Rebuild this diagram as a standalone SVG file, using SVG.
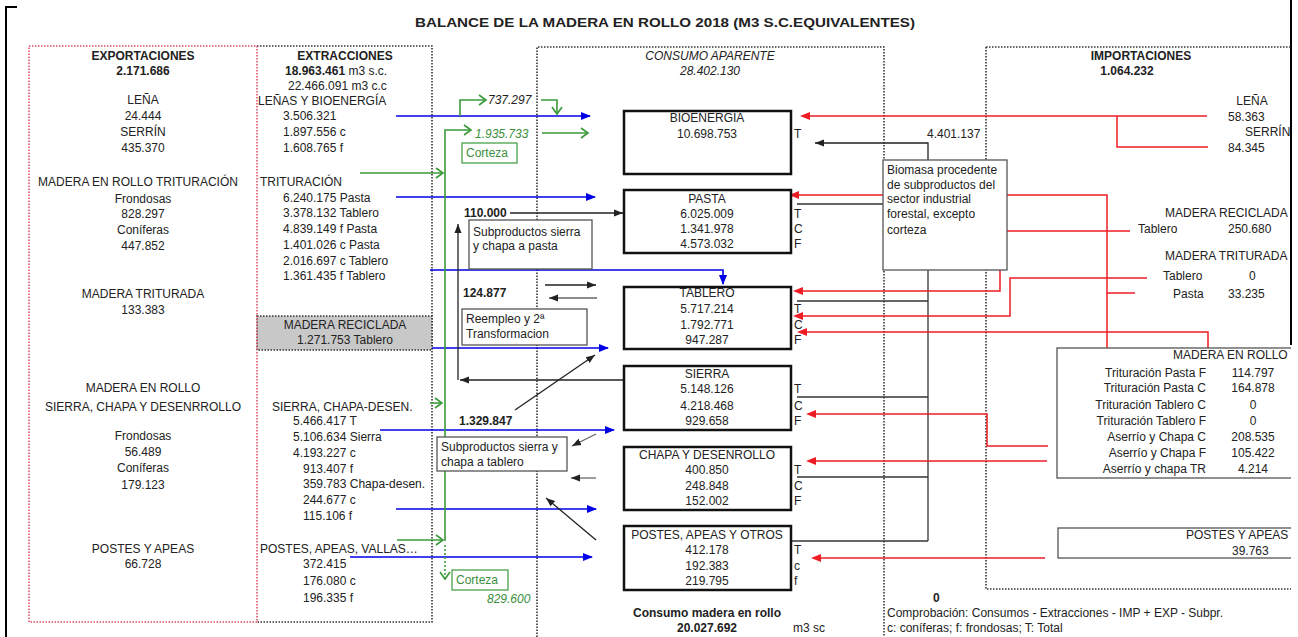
<svg xmlns="http://www.w3.org/2000/svg" width="1298" height="637" viewBox="0 0 1298 637">
<style>
.t{font-family:"Liberation Sans",Arial,sans-serif;font-size:12px;fill:#222}
.b{font-weight:bold}
.c{text-anchor:middle}
.r{text-anchor:end}
.i{font-style:italic}
.gt{fill:#3a8f3a}
.box{fill:#fff;stroke:#111;stroke-width:2.5}
.lbl{fill:#fff;stroke:#555;stroke-width:1.3}
.dotk{fill:none;stroke:#333;stroke-width:1.6;stroke-dasharray:1.5 1.5}
.dotr{fill:none;stroke:#e0506a;stroke-width:1.6;stroke-dasharray:1.5 1.5}
.bl{fill:none;stroke:#0000e6;stroke-width:1.6;marker-end:url(#mb)}
.rd{fill:none;stroke:#ee1c24;stroke-width:1.5}
.rda{fill:none;stroke:#ee1c24;stroke-width:1.5;marker-end:url(#mr)}
.gr{fill:none;stroke:#3a9a3a;stroke-width:1.6}
.gra{fill:none;stroke:#3a9a3a;stroke-width:1.6;marker-end:url(#mg)}
.k{fill:none;stroke:#333;stroke-width:1.3}
.ka{fill:none;stroke:#222;stroke-width:1.3;marker-end:url(#mk)}
.kg{fill:none;stroke:#666;stroke-width:1.3;marker-end:url(#mk)}
</style>
<defs>
<marker id="mb" markerWidth="10" markerHeight="10" refX="9" refY="5" orient="auto" markerUnits="userSpaceOnUse"><path d="M0,1 L10,5 L0,9 Z" fill="#0000e6"/></marker>
<marker id="mr" markerWidth="10" markerHeight="10" refX="1" refY="5" orient="auto" markerUnits="userSpaceOnUse"><path d="M0,5 L10,1 L10,9 Z" fill="#ee1c24" transform="rotate(180 5 5)"/></marker>
<marker id="mk" markerWidth="10" markerHeight="10" refX="9" refY="5" orient="auto" markerUnits="userSpaceOnUse"><path d="M0,1.5 L9,5 L0,8.5 Z" fill="#222"/></marker>
<marker id="mg" markerWidth="12" markerHeight="12" refX="10" refY="6" orient="auto" markerUnits="userSpaceOnUse"><path d="M3,1 L10,6 L3,11" fill="none" stroke="#3a9a3a" stroke-width="1.6"/></marker>
<clipPath id="cr"><rect x="0" y="0" width="1291" height="637"/></clipPath>
</defs>
<rect x="0" y="0" width="1298" height="637" fill="#fff"/>
<!-- frame -->
<path d="M6,637 V7 H17" fill="none" stroke="#000" stroke-width="2"/>
<line x1="1291" y1="0" x2="1291" y2="345" stroke="#000" stroke-width="2"/>
<text class="t b c" x="665" y="27" font-size="15" textLength="500" lengthAdjust="spacingAndGlyphs">BALANCE DE LA MADERA EN ROLLO 2018 (M3 S.C.EQUIVALENTES)</text>

<!-- EXTRACCIONES -->
<g id="extracciones">
<path class="dotk" d="M257,46 H432 V622 H257"/>
<text class="t b c" x="345" y="60">EXTRACCIONES</text>
<text class="t" x="285" y="75"><tspan class="b">18.963.461</tspan> m3 s.c.</text>
<text class="t" x="288" y="90">22.466.091 m3 c.c</text>
<text class="t" x="258" y="105">LEÑAS Y BIOENERGÍA</text>
<text class="t" x="283" y="120">3.506.321</text>
<text class="t" x="283" y="136">1.897.556 c</text>
<text class="t" x="283" y="152">1.608.765 f</text>
<text class="t" x="260" y="186">TRITURACIÓN</text>
<text class="t" x="283" y="202">6.240.175 Pasta</text>
<text class="t" x="283" y="217">3.378.132 Tablero</text>
<text class="t" x="283" y="233">4.839.149 f Pasta</text>
<text class="t" x="283" y="249">1.401.026 c Pasta</text>
<text class="t" x="283" y="265">2.016.697 c Tablero</text>
<text class="t" x="283" y="280">1.361.435 f Tablero</text>
<text class="t" x="272" y="411">SIERRA, CHAPA-DESEN.</text>
<text class="t" x="293" y="425">5.466.417 T</text>
<text class="t" x="293" y="441">5.106.634 Sierra</text>
<text class="t" x="293" y="457">4.193.227 c</text>
<text class="t" x="303" y="473">913.407 f</text>
<text class="t" x="303" y="488">359.783 Chapa-desen.</text>
<text class="t" x="303" y="504">244.677 c</text>
<text class="t" x="303" y="520">115.106 f</text>
<text class="t" x="260" y="553">POSTES, APEAS, VALLAS…</text>
<text class="t" x="303" y="568">372.415</text>
<text class="t" x="303" y="585">176.080 c</text>
<text class="t" x="303" y="602">196.335 f</text>
</g>
<g id="madera-reciclada">
<rect x="257" y="316" width="175" height="34" fill="#c8c8c8" stroke="#333" stroke-width="1.6" stroke-dasharray="1.5 1.5"/>
<text class="t c" x="345" y="329">MADERA RECICLADA</text>
<text class="t c" x="345" y="344">1.271.753 Tablero</text>
</g>

<!-- EXPORTACIONES -->
<g id="exportaciones">
<rect class="dotr" x="29" y="46" width="228" height="576"/>
<text class="t b c" x="143" y="60">EXPORTACIONES</text>
<text class="t b c" x="143" y="75">2.171.686</text>
<text class="t c" x="143" y="104">LEÑA</text>
<text class="t c" x="143" y="120">24.444</text>
<text class="t c" x="143" y="136">SERRÍN</text>
<text class="t c" x="143" y="152">435.370</text>
<text class="t c" x="138" y="186">MADERA EN ROLLO TRITURACIÓN</text>
<text class="t c" x="143" y="203">Frondosas</text>
<text class="t c" x="143" y="218">828.297</text>
<text class="t c" x="143" y="234">Coníferas</text>
<text class="t c" x="143" y="250">447.852</text>
<text class="t c" x="143" y="298">MADERA TRITURADA</text>
<text class="t c" x="143" y="314">133.383</text>
<text class="t c" x="143" y="392">MADERA EN ROLLO</text>
<text class="t c" x="143" y="411">SIERRA, CHAPA Y DESENRROLLO</text>
<text class="t c" x="143" y="440">Frondosas</text>
<text class="t c" x="143" y="456">56.489</text>
<text class="t c" x="143" y="472">Coníferas</text>
<text class="t c" x="143" y="489">179.123</text>
<text class="t c" x="143" y="553">POSTES Y APEAS</text>
<text class="t c" x="143" y="568">66.728</text>
</g>

<!-- CONSUMO APARENTE frame -->
<g id="consumo-aparente">
<path class="dotk" d="M537,637 V47 H884 V637"/>
<text class="t i c" x="710" y="60" fill="#333">CONSUMO APARENTE</text>
<text class="t i c" x="710" y="75" fill="#333">28.402.130</text>
<text class="t b c" x="707" y="617">Consumo madera en rollo</text>
<text class="t b c" x="707" y="632">20.027.692</text>
<text class="t" x="793" y="632">m3 sc</text>
</g>

<!-- IMPORTACIONES frame -->
<g id="importaciones" clip-path="url(#cr)">
<path class="dotk" d="M986,47 H1300 M986,47 V589 H1300"/>
<text class="t b c" x="1141" y="60">IMPORTACIONES</text>
<text class="t b c" x="1127" y="75">1.064.232</text>
<text class="t c" x="1252" y="105">LEÑA</text>
<text class="t" x="1228" y="121">58.363</text>
<text class="t" x="1245" y="136">SERRÍN</text>
<text class="t" x="1228" y="152">84.345</text>
<text class="t" x="1165" y="217">MADERA RECICLADA</text>
<text class="t" x="1138" y="233">Tablero</text>
<text class="t" x="1228" y="233">250.680</text>
<text class="t" x="1165" y="260">MADERA TRITURADA</text>
<text class="t" x="1163" y="280">Tablero</text>
<text class="t" x="1249" y="280">0</text>
<text class="t" x="1173" y="298">Pasta</text>
<text class="t" x="1228" y="298">33.235</text>
</g>

<!-- connectors -->
<g id="connectors">
<!-- blue -->
<path class="bl" d="M396,116 H590"/>
<path class="bl" d="M396,197 H595"/>
<path class="bl" d="M430,270 H723 V284"/>
<path class="bl" d="M432,348 H608"/>
<path class="bl" d="M380,430 H614"/>
<path class="bl" d="M396,509 H596"/>
<path class="bl" d="M350,557 H592"/>
<!-- green -->
<path class="gra" d="M360,173 H443"/>
<path class="gra" d="M445,541 V130 H471"/>
<path class="gra" d="M397,540 H443"/>
<path class="gra" d="M430,403 H442"/>
<path class="gra" d="M460,116 V100 H486"/>
<path class="gra" d="M541,100 H557 V114"/>
<path class="gra" d="M542,133 H588"/>
<path class="gra" d="M445,545 V579" stroke-dasharray="2 2"/>
<!-- black/gray internal -->
<path class="ka" d="M510,213 H623"/>
<path class="ka" d="M458,380 V224"/>
<path class="ka" d="M625,380 H460"/>
<path class="ka" d="M545,285 H596"/>
<path class="kg" d="M597,298 H549"/>
<path class="ka" d="M515,410 L595,355"/>
<path class="kg" d="M596,434 L572,446"/>
<path class="kg" d="M596,478 H571"/>
<path class="ka" d="M596,540 L546,498"/>
<!-- biomasa connectors -->
<path class="ka" d="M928,160 V143 H815"/>
<path class="k" d="M928,270 V541"/>
<path class="k" d="M797,204 H884"/>
<path class="k" d="M797,301 H928"/>
<path class="k" d="M797,397 H928"/>
<path class="k" d="M797,477 H928"/>
<path class="k" d="M791,541 H928" stroke="#111"/>
<!-- red -->
<path class="rda" d="M1207,116 H809"/>
<path class="rd" d="M1208,147 H1117 V116"/>
<path class="rda" d="M1107,348 V195 H798"/>
<path class="rd" d="M1135,293 H1107"/>
<path class="rda" d="M1130,231 H1000 V291 H802"/>
<path class="rda" d="M1147,278 H1010 V316 H802"/>
<path class="rda" d="M1208,348 V332 H806"/>
<path class="rda" d="M1048,446 H987 V414 H815"/>
<path class="rda" d="M1047,461 H815"/>
<path class="rda" d="M1045,558 H820"/>
</g>

<!-- labels on connectors -->
<g id="flow-labels">
<text class="t i" x="488" y="104" fill="#555">737.297</text>
<text class="t i gt" x="475" y="138">1.935.733</text>
<rect x="462" y="143" width="55" height="20" fill="#fff" stroke="#3a9a3a" stroke-width="1.2"/>
<text class="t gt" x="466" y="157">Corteza</text>
<rect x="452" y="570" width="56" height="20" fill="#fff" stroke="#3a9a3a" stroke-width="1.2"/>
<text class="t gt" x="456" y="584">Corteza</text>
<text class="t i gt" x="487" y="603">829.600</text>
<text class="t b" x="464" y="217">110.000</text>
<text class="t b" x="463" y="297">124.877</text>
<text class="t b" x="459" y="425">1.329.847</text>
</g>
<g id="sub-pasta">
<rect class="lbl" x="469" y="220" width="123" height="49"/>
<text class="t" x="473" y="236">Subproductos sierra</text>
<text class="t" x="473" y="250">y chapa a pasta</text>
</g>
<g id="reempleo">
<rect class="lbl" x="462" y="309" width="125" height="36"/>
<text class="t" x="466" y="323">Reempleo  y 2ª</text>
<text class="t" x="466" y="338">Transformacion</text>
</g>
<g id="sub-tablero">
<rect class="lbl" x="437" y="437" width="130" height="34"/>
<text class="t" x="441" y="451">Subproductos sierra y</text>
<text class="t" x="441" y="466">chapa a tablero</text>
</g>

<!-- central nodes -->
<g id="bioenergia">
<rect class="box" x="624" y="111" width="167" height="63"/>
<text class="t c" x="707" y="122">BIOENERGIA</text>
<text class="t c" x="707" y="138">10.698.753</text>
<text class="t" x="794" y="138">T</text>
</g>
<g id="pasta">
<rect class="box" x="624" y="190" width="167" height="63"/>
<text class="t c" x="707" y="203">PASTA</text>
<text class="t c" x="707" y="218">6.025.009</text>
<text class="t c" x="707" y="233">1.341.978</text>
<text class="t c" x="707" y="248">4.573.032</text>
<text class="t" x="794" y="218">T</text>
<text class="t" x="794" y="233">C</text>
<text class="t" x="794" y="248">F</text>
</g>
<g id="tablero">
<rect class="box" x="624" y="287" width="167" height="62"/>
<text class="t c" x="707" y="297">TABLERO</text>
<text class="t c" x="707" y="313">5.717.214</text>
<text class="t c" x="707" y="329">1.792.771</text>
<text class="t c" x="707" y="344">947.287</text>
<text class="t" x="794" y="313">T</text>
<text class="t" x="794" y="329">C</text>
<text class="t" x="794" y="344">F</text>
</g>
<g id="sierra">
<rect class="box" x="624" y="366" width="167" height="64"/>
<text class="t c" x="707" y="378">SIERRA</text>
<text class="t c" x="707" y="393">5.148.126</text>
<text class="t c" x="707" y="410">4.218.468</text>
<text class="t c" x="707" y="425">929.658</text>
<text class="t" x="794" y="393">T</text>
<text class="t" x="794" y="410">C</text>
<text class="t" x="794" y="425">F</text>
</g>
<g id="chapa">
<rect class="box" x="624" y="447" width="167" height="63"/>
<text class="t c" x="707" y="459">CHAPA Y DESENROLLO</text>
<text class="t c" x="707" y="474">400.850</text>
<text class="t c" x="707" y="490">248.848</text>
<text class="t c" x="707" y="505">152.002</text>
<text class="t" x="794" y="474">T</text>
<text class="t" x="794" y="490">C</text>
<text class="t" x="794" y="505">F</text>
</g>
<g id="postes">
<rect class="box" x="624" y="526" width="167" height="64"/>
<text class="t c" x="707" y="539">POSTES, APEAS Y OTROS</text>
<text class="t c" x="707" y="554">412.178</text>
<text class="t c" x="707" y="570">192.383</text>
<text class="t c" x="707" y="585">219.795</text>
<text class="t" x="794" y="554">T</text>
<text class="t" x="794" y="570">c</text>
<text class="t" x="794" y="585">f</text>
</g>

<g id="biomasa">
<rect class="lbl" x="883" y="160" width="124" height="110"/>
<text class="t" x="887" y="174">Biomasa procedente</text>
<text class="t" x="887" y="189">de subproductos del</text>
<text class="t" x="887" y="203">sector industrial</text>
<text class="t" x="887" y="218">forestal, excepto</text>
<text class="t" x="887" y="234">corteza</text>
</g>
<text class="t" x="927" y="138">4.401.137</text>

<g id="imp-madera-rollo" clip-path="url(#cr)">
<rect class="lbl" x="1057" y="348" width="250" height="130"/>
<text class="t" x="1173" y="359">MADERA EN ROLLO</text>
<text class="t r" x="1206" y="377">Trituración Pasta F</text>
<text class="t r" x="1206" y="392">Trituración Pasta C</text>
<text class="t r" x="1206" y="409">Trituración Tablero C</text>
<text class="t r" x="1206" y="425">Trituración Tablero F</text>
<text class="t r" x="1206" y="441">Aserrío y Chapa C</text>
<text class="t r" x="1206" y="457">Aserrío y Chapa F</text>
<text class="t r" x="1206" y="473">Aserrío y chapa TR</text>
<text class="t c" x="1253" y="377">114.797</text>
<text class="t c" x="1253" y="392">164.878</text>
<text class="t c" x="1253" y="409">0</text>
<text class="t c" x="1253" y="425">0</text>
<text class="t c" x="1253" y="441">208.535</text>
<text class="t c" x="1253" y="457">105.422</text>
<text class="t c" x="1253" y="473">4.214</text>
</g>
<g id="imp-postes" clip-path="url(#cr)">
<rect class="lbl" x="1058" y="528" width="250" height="30"/>
<text class="t" x="1186" y="539">POSTES Y APEAS</text>
<text class="t" x="1232" y="555">39.763</text>
</g>

<g id="comprobacion">
<text class="t b" x="933" y="602">0</text>
<text class="t" x="887" y="617">Comprobación: Consumos - Extracciones - IMP + EXP - Subpr.</text>
<text class="t" x="887" y="632">c: coníferas; f: frondosas; T: Total</text>
</g>
</svg>
